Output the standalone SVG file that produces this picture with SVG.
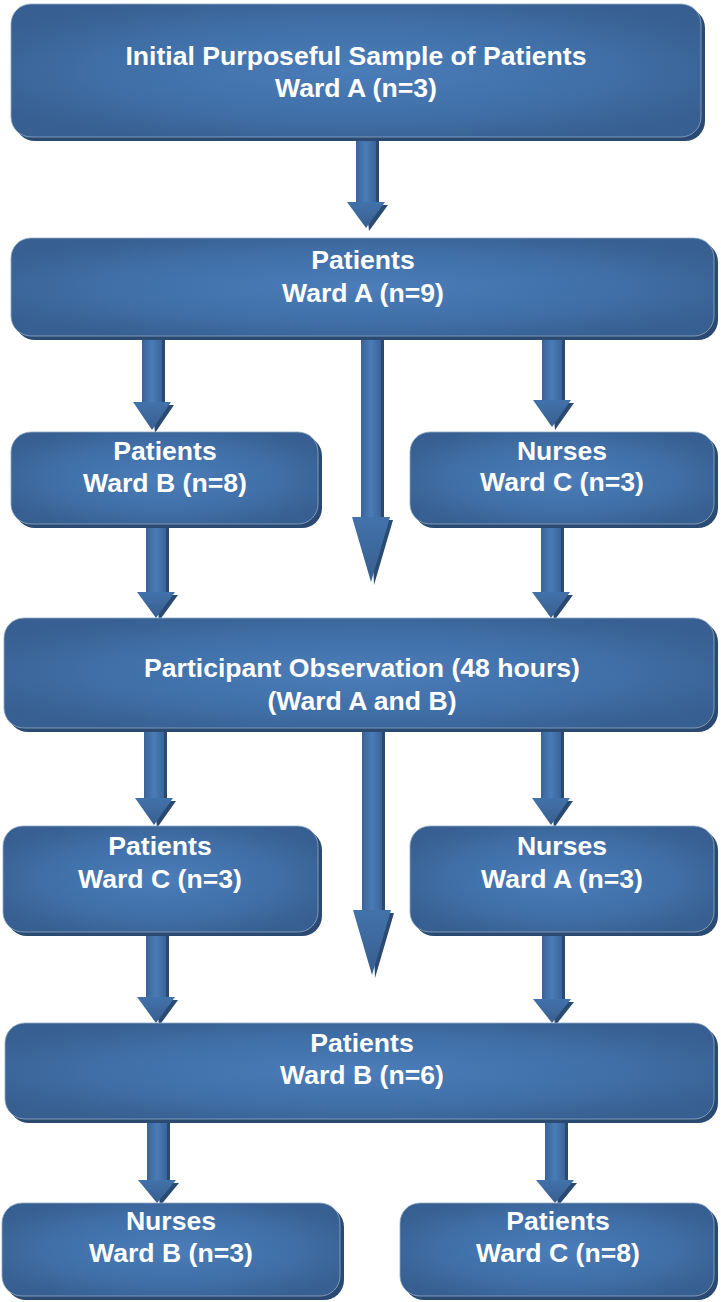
<svg xmlns="http://www.w3.org/2000/svg" width="721" height="1302" viewBox="0 0 721 1302">
<defs>
<radialGradient id="boxg" cx="0.5" cy="0.5" r="0.6">
<stop offset="0" stop-color="#4b7db9"/>
<stop offset="0.6" stop-color="#406fa7"/>
<stop offset="1" stop-color="#375f91"/>
</radialGradient>
<linearGradient id="arrg" x1="0" y1="0" x2="1" y2="0">
<stop offset="0" stop-color="#3a6498"/>
<stop offset="0.5" stop-color="#4a7cb8"/>
<stop offset="1" stop-color="#3a6498"/>
</linearGradient>
<linearGradient id="headg" x1="0" y1="0" x2="0" y2="1">
<stop offset="0" stop-color="#4272ab"/>
<stop offset="1" stop-color="#385f90"/>
</linearGradient>
</defs>
<style>
.sh{fill:#2b4a71}
.bx{fill:url(#boxg);stroke:#8fa9c6;stroke-width:0.8}
.ash{fill:#2b4a71}
.shaft{fill:url(#arrg)}
.head{fill:url(#headg)}
text{font-family:"Liberation Sans",Arial,sans-serif;font-weight:bold;font-size:26.6px;fill:#ffffff;text-anchor:middle}
</style>
<g id="connectors">
<g id="a1"><path class="ash" d="M359 137H379V205H388L369 231Z"/><rect class="shaft" x="356" y="137" width="20" height="65"/><path class="head" d="M347 202H385L366 228Z"/></g>
<g id="a2l"><path class="ash" d="M145 336H165V405H174L155 433Z"/><rect class="shaft" x="142" y="336" width="20" height="66"/><path class="head" d="M133 402H171L152 430Z"/></g>
<g id="a2c"><path class="ash" d="M364 336H384V520H393L374 585Z"/><rect class="shaft" x="361" y="336" width="20" height="181"/><path class="head" d="M352 517H390L371 582Z"/></g>
<g id="a2r"><path class="ash" d="M545 336H565V403H574L555 430Z"/><rect class="shaft" x="542" y="336" width="20" height="64"/><path class="head" d="M533 400H571L552 427Z"/></g>
<g id="a3l"><path class="ash" d="M149 524H169V595H178L159 621Z"/><rect class="shaft" x="146" y="524" width="20" height="68"/><path class="head" d="M137 592H175L156 618Z"/></g>
<g id="a3r"><path class="ash" d="M544 524H564V595H573L554 621Z"/><rect class="shaft" x="541" y="524" width="20" height="68"/><path class="head" d="M532 592H570L551 618Z"/></g>
<g id="a4l"><path class="ash" d="M147 728H167V801H176L157 828Z"/><rect class="shaft" x="144" y="728" width="20" height="70"/><path class="head" d="M135 798H173L154 825Z"/></g>
<g id="a4c"><path class="ash" d="M365 728H385V913H394L375 978Z"/><rect class="shaft" x="362" y="728" width="20" height="182"/><path class="head" d="M353 910H391L372 975Z"/></g>
<g id="a4r"><path class="ash" d="M544 728H564V801H573L554 828Z"/><rect class="shaft" x="541" y="728" width="20" height="70"/><path class="head" d="M532 798H570L551 825Z"/></g>
<g id="a5l"><path class="ash" d="M149 932H169V1000H178L159 1026Z"/><rect class="shaft" x="146" y="932" width="20" height="65"/><path class="head" d="M137 997H175L156 1023Z"/></g>
<g id="a5r"><path class="ash" d="M545 932H565V1002H574L555 1026Z"/><rect class="shaft" x="542" y="932" width="20" height="67"/><path class="head" d="M533 999H571L552 1023Z"/></g>
<g id="a6l"><path class="ash" d="M150 1119H170V1183H179L160 1206Z"/><rect class="shaft" x="147" y="1119" width="20" height="61"/><path class="head" d="M138 1180H176L157 1203Z"/></g>
<g id="a6r"><path class="ash" d="M548 1119H568V1183H577L558 1206Z"/><rect class="shaft" x="545" y="1119" width="20" height="61"/><path class="head" d="M536 1180H574L555 1203Z"/></g>
</g>
<g id="n1"><rect class="sh" x="15" y="8" width="690" height="133" rx="20"/><rect class="bx" x="11" y="4" width="690" height="133" rx="20"/><text x="356" y="65">Initial Purposeful Sample of Patients</text><text x="356" y="97">Ward A (n=3)</text></g>
<g id="n2"><rect class="sh" x="15" y="242" width="703" height="98" rx="20"/><rect class="bx" x="11" y="238" width="703" height="98" rx="20"/><text x="363" y="269">Patients</text><text x="363" y="302">Ward A (n=9)</text></g>
<g id="n3"><rect class="sh" x="15" y="436" width="307" height="92" rx="20"/><rect class="bx" x="11" y="432" width="307" height="92" rx="20"/><text x="165" y="460">Patients</text><text x="165" y="492">Ward B (n=8)</text></g>
<g id="n4"><rect class="sh" x="414" y="436" width="304" height="92" rx="20"/><rect class="bx" x="410" y="432" width="304" height="92" rx="20"/><text x="562" y="460">Nurses</text><text x="562" y="491">Ward C (n=3)</text></g>
<g id="n5"><rect class="sh" x="8" y="622" width="710" height="110" rx="20"/><rect class="bx" x="4" y="618" width="710" height="110" rx="20"/><text x="362" y="677">Participant Observation (48 hours)</text><text x="362" y="710">(Ward A and B)</text></g>
<g id="n6"><rect class="sh" x="7" y="830" width="315" height="106" rx="20"/><rect class="bx" x="3" y="826" width="315" height="106" rx="20"/><text x="160" y="855">Patients</text><text x="160" y="888">Ward C (n=3)</text></g>
<g id="n7"><rect class="sh" x="414" y="830" width="304" height="106" rx="20"/><rect class="bx" x="410" y="826" width="304" height="106" rx="20"/><text x="562" y="855">Nurses</text><text x="562" y="888">Ward A (n=3)</text></g>
<g id="n8"><rect class="sh" x="9" y="1027" width="709" height="96" rx="20"/><rect class="bx" x="5" y="1023" width="709" height="96" rx="20"/><text x="362" y="1052">Patients</text><text x="362" y="1084">Ward B (n=6)</text></g>
<g id="n9"><rect class="sh" x="6" y="1207" width="338" height="93" rx="20"/><rect class="bx" x="2" y="1203" width="338" height="93" rx="20"/><text x="171" y="1230">Nurses</text><text x="171" y="1262">Ward B (n=3)</text></g>
<g id="n10"><rect class="sh" x="404" y="1207" width="314" height="93" rx="20"/><rect class="bx" x="400" y="1203" width="314" height="93" rx="20"/><text x="558" y="1230">Patients</text><text x="558" y="1262">Ward C (n=8)</text></g>
</svg>
